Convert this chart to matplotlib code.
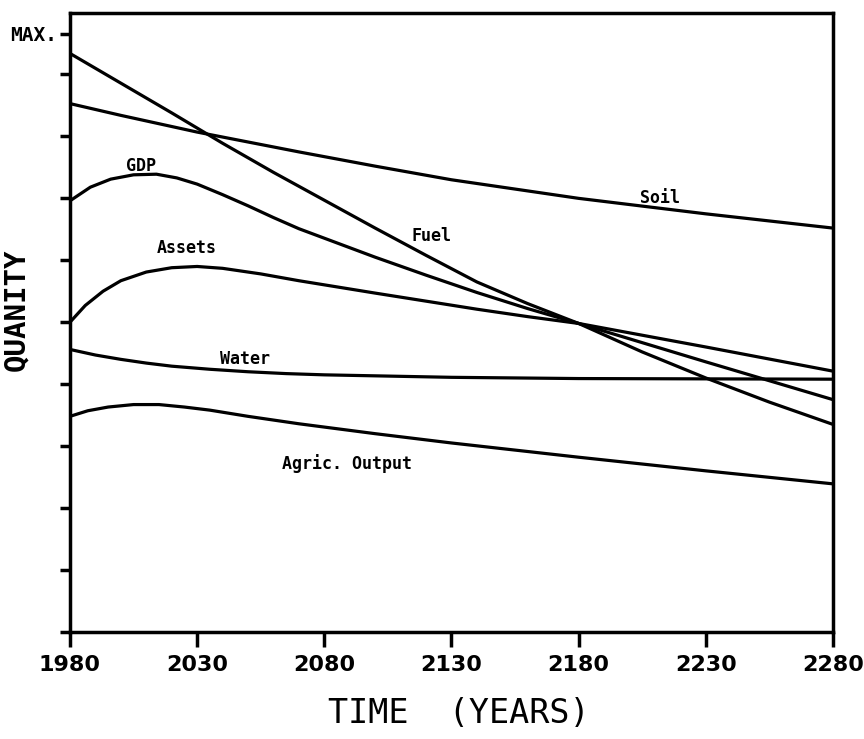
import numpy as np
from matplotlib import pyplot as plt

# values (y in tick units, 0..10, MAX. near 9.66)
soil_years = [1980, 2000, 2030, 2070, 2100, 2130, 2180, 2230, 2280]
soil = [8.53, 8.34, 8.07, 7.75, 7.52, 7.30, 7.00, 6.75, 6.52]

fuel_years = [1980, 2000, 2020, 2040, 2060, 2080, 2100, 2120, 2140, 2160, 2180, 2205, 2230, 2255, 2280]
fuel = [9.34, 8.86, 8.38, 7.89, 7.42, 6.97, 6.52, 6.08, 5.65, 5.30, 4.98, 4.52, 4.10, 3.71, 3.35]

gdp_years = [1980, 1988, 1996, 2005, 2014, 2022, 2030, 2040, 2050, 2060, 2070, 2085, 2100,
             2120, 2140, 2160, 2180, 2230, 2280]
gdp = [6.96, 7.18, 7.31, 7.38, 7.39, 7.33, 7.23, 7.06, 6.88, 6.69, 6.51, 6.28, 6.05,
       5.76, 5.48, 5.22, 4.98, 4.36, 3.75]

assets_years = [1980, 1986, 1993, 2000, 2010, 2020, 2030, 2040, 2055, 2070, 2085, 2100, 2120,
                2140, 2160, 2180, 2230, 2280]
assets = [5.00, 5.27, 5.50, 5.67, 5.81, 5.88, 5.90, 5.87, 5.78, 5.67, 5.57, 5.47, 5.34,
          5.21, 5.09, 4.98, 4.60, 4.21]

water_years = [1980, 1990, 2000, 2010, 2020, 2035, 2050, 2065, 2080, 2130, 2180, 2280]
water = [4.56, 4.47, 4.40, 4.34, 4.29, 4.24, 4.20, 4.17, 4.15, 4.11, 4.09, 4.08]

agric_years = [1980, 1987, 1995, 2005, 2015, 2025, 2035, 2050, 2070, 2100, 2130, 2180, 2230, 2280]
agric = [3.48, 3.57, 3.63, 3.67, 3.67, 3.63, 3.58, 3.48, 3.36, 3.20, 3.05, 2.82, 2.60, 2.39]

xticks = [1980, 2030, 2080, 2130, 2180, 2230, 2280]

fig = plt.figure(figsize=(8.64, 7.39), dpi=100)
ax = fig.add_axes([0.081, 0.145, 0.883, 0.838])

for xs, ys in [(soil_years, soil), (fuel_years, fuel), (gdp_years, gdp),
               (assets_years, assets), (water_years, water), (agric_years, agric)]:
    ax.plot(xs, ys, color="black", linewidth=2.3, solid_joinstyle="round")

# curve labels
lab = dict(fontsize=12, fontweight="bold", family="DejaVu Sans Mono", ha="center", va="center")
ax.text(2008, 7.52, "GDP", **lab)
ax.text(2026, 6.20, "Assets", **lab)
ax.text(2049, 4.40, "Water", **lab)
ax.text(2089, 2.72, "Agric. Output", **lab)
ax.text(2122, 6.39, "Fuel", **lab)
ax.text(2212, 7.00, "Soil", **lab)

ax.set_xlim(1980, 2280)
ax.set_ylim(0, 10)
ax.set_xticks(xticks)
ax.set_xticklabels([str(t) for t in xticks], fontsize=16, fontweight="bold")
ax.set_yticks(list(range(0, 10)) + [9.66])
ax.set_yticklabels([""] * 10 + ["MAX."], fontsize=14, fontweight="bold", family="DejaVu Sans Mono")
ax.tick_params(axis="x", direction="out", length=11, width=2.5, pad=6)
ax.tick_params(axis="y", direction="out", length=7, width=2.5, pad=2)
for s in ax.spines.values():
    s.set_linewidth(2.5)

ax.set_xlabel("TIME  (YEARS)", fontsize=24, family="DejaVu Sans Mono")
ax.xaxis.set_label_coords(0.51, -0.105)
ax.set_ylabel("QUANITY", fontsize=21, fontweight="bold", family="DejaVu Sans Mono")
ax.yaxis.set_label_coords(-0.052, 0.52)

plt.savefig("out.png", dpi=100)
